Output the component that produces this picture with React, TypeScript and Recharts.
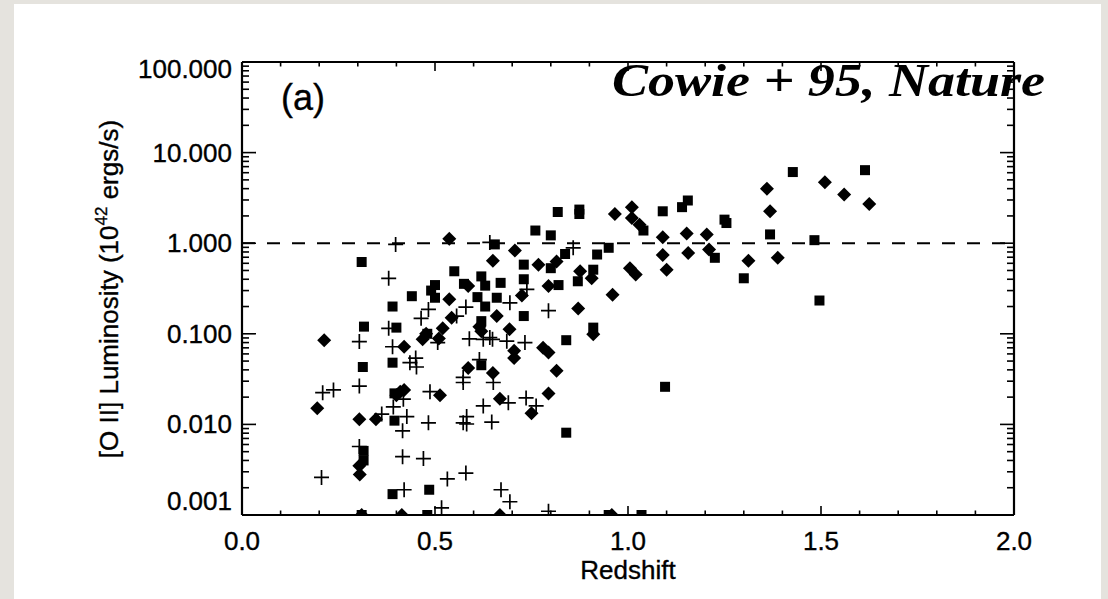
import React from 'react';
import { ScatterChart, Scatter, XAxis, YAxis, ReferenceLine } from 'recharts';

// [redshift, [O II] luminosity in 1e42 ergs/s]
const squarePoints: number[][] = [
  [0.31, 0.62], [0.316, 0.12], [0.313, 0.043], [0.39, 0.2], [0.4, 0.117], [0.39, 0.048],
  [0.44, 0.26], [0.49, 0.3], [0.5, 0.345], [0.5, 0.25], [0.55, 0.49], [0.575, 0.356],
  [0.62, 0.43], [0.63, 0.34], [0.61, 0.254], [0.63, 0.2], [0.66, 0.25], [0.62, 0.138],
  [0.62, 0.045], [0.655, 0.97], [0.395, 0.022], [0.395, 0.011], [0.315, 0.0051], [0.315, 0.004],
  [0.39, 0.0017], [0.485, 0.0019], [0.31, 0.001], [0.48, 0.001], [0.818, 2.21], [0.874, 2.35],
  [0.874, 2.1], [1.09, 2.25], [1.14, 2.5], [1.155, 2.96], [1.25, 1.82], [1.255, 1.67],
  [1.368, 1.25], [0.76, 1.38], [0.8, 1.22], [0.95, 0.89], [0.92, 0.75], [0.837, 0.76],
  [0.73, 0.58], [0.8, 0.53], [0.82, 0.345], [0.87, 0.38], [0.91, 0.51], [0.67, 0.365],
  [0.73, 0.4], [0.73, 0.157], [0.84, 0.085], [0.91, 0.117], [1.225, 0.69], [1.3, 0.41],
  [1.096, 0.026], [1.04, 1.38], [0.84, 0.0081], [0.95, 0.001], [1.035, 0.001], [1.427, 6.1],
  [1.614, 6.4], [1.483, 1.08], [1.496, 0.233], [0.48, 0.1],
];

const diamondPoints: number[][] = [
  [0.213, 0.085], [0.537, 1.12], [0.65, 0.64], [0.537, 0.24], [0.543, 0.15], [0.52, 0.115],
  [0.477, 0.1], [0.468, 0.087], [0.51, 0.089], [0.42, 0.072], [0.586, 0.336], [0.615, 0.12],
  [0.62, 0.107], [0.66, 0.157], [0.586, 0.042], [0.65, 0.037], [0.41, 0.023], [0.4, 0.021],
  [0.42, 0.024], [0.513, 0.021], [0.195, 0.0151], [0.304, 0.0114], [0.347, 0.0114], [0.304, 0.0035],
  [0.305, 0.0028], [0.668, 0.0192], [0.31, 0.001], [0.414, 0.001], [0.966, 2.1], [1.01, 2.5],
  [1.01, 1.9], [1.03, 1.6], [1.368, 2.25], [0.707, 0.83], [1.09, 1.16], [1.09, 0.74],
  [1.1, 0.51], [1.152, 1.28], [1.156, 0.78], [1.204, 1.25], [1.21, 0.85], [1.312, 0.64],
  [1.388, 0.69], [0.768, 0.58], [0.815, 0.63], [0.876, 0.49], [0.906, 0.41], [0.794, 0.336],
  [0.96, 0.27], [0.871, 0.19], [0.725, 0.265], [0.693, 0.112], [0.78, 0.07], [0.794, 0.062],
  [0.705, 0.065], [0.705, 0.054], [0.815, 0.039], [0.91, 0.099], [0.794, 0.022], [0.75, 0.0133],
  [0.668, 0.001], [0.958, 0.001], [1.36, 4.0], [1.51, 4.7], [1.56, 3.45], [1.625, 2.7],
  [1.005, 0.53], [1.02, 0.45],
];

const crossPoints: number[][] = [
  [0.398, 0.97], [0.642, 1.02], [0.38, 0.41], [0.483, 0.186], [0.464, 0.148], [0.58, 0.197],
  [0.556, 0.157], [0.304, 0.082], [0.38, 0.115], [0.39, 0.072], [0.435, 0.048], [0.45, 0.054],
  [0.452, 0.043], [0.507, 0.08], [0.589, 0.088], [0.625, 0.087], [0.649, 0.087], [0.615, 0.052],
  [0.573, 0.033], [0.573, 0.029], [0.651, 0.029], [0.209, 0.0224], [0.237, 0.024], [0.304, 0.0265],
  [0.487, 0.023], [0.392, 0.0156], [0.418, 0.019], [0.427, 0.0122], [0.416, 0.0085], [0.483, 0.0104],
  [0.362, 0.013], [0.304, 0.0057], [0.416, 0.0044], [0.47, 0.0042], [0.206, 0.0026], [0.42, 0.0019],
  [0.532, 0.0025], [0.58, 0.0029], [0.517, 0.0012], [0.573, 0.0104], [0.582, 0.0101], [0.625, 0.016],
  [0.647, 0.0106], [0.69, 0.0173], [0.736, 0.0196], [0.762, 0.016], [0.671, 0.0019], [0.694, 0.0014],
  [0.794, 0.0011], [0.858, 0.89], [0.738, 0.31], [0.694, 0.22], [0.794, 0.18], [0.642, 0.091],
  [0.686, 0.083], [0.733, 0.08], [0.582, 0.0122],
];

const redshiftTicks = [0, 0.1, 0.2, 0.3, 0.4, 0.5, 0.6, 0.7, 0.8, 0.9, 1.0, 1.1, 1.2, 1.3, 1.4, 1.5, 1.6, 1.7, 1.8, 1.9, 2.0];
const redshiftMajor = [0, 0.5, 1.0, 1.5, 2.0];
const lumDecades = [0.001, 0.01, 0.1, 1, 10, 100];
const lumTicks: number[] = [];
lumDecades.forEach((d, i) => {
  lumTicks.push(d);
  if (i < lumDecades.length - 1) for (let m = 2; m <= 9; m++) lumTicks.push(+(d * m).toPrecision(3));
});
const thresholdLum = 1;

const squares = squarePoints.map(([z, L]) => ({ z, L }));
const diamonds = diamondPoints.map(([z, L]) => ({ z, L }));
const crosses = crossPoints.map(([z, L]) => ({ z, L }));

const FONT = '"Liberation Sans", Arial, Helvetica, sans-serif';
const TXT = { fontFamily: FONT, fill: '#000', stroke: '#000', strokeWidth: 0.35 };

const isMajorZ = (v: number) => redshiftMajor.some((m) => Math.abs(m - v) < 1e-6);
const isDecade = (v: number) => Math.abs(Math.log10(v) - Math.round(Math.log10(v))) < 1e-6;

const BottomTick = (p: any) => {
  const v = p.payload.value;
  const major = isMajorZ(v);
  return (
    <g>
      <line x1={p.x} x2={p.x} y1={p.y} y2={p.y - (major ? 9 : 4.5)} stroke="#000" strokeWidth={1.6} />
      {major && (
        <text x={p.x} y={p.y + 35} textAnchor="middle" fontSize={26} {...TXT}>
          {v.toFixed(1)}
        </text>
      )}
    </g>
  );
};

const TopTick = (p: any) => {
  const v = p.payload.value;
  const major = isMajorZ(v);
  return <line x1={p.x} x2={p.x} y1={p.y} y2={p.y + (major ? 9 : 4.5)} stroke="#000" strokeWidth={1.6} />;
};

const LeftTick = (p: any) => {
  const v = p.payload.value;
  const major = isDecade(v);
  let dy = 9;
  if (major && Math.abs(v - 100) < 1e-6) dy = 16;
  if (major && Math.abs(v - 0.001) < 1e-9) dy = -5;
  return (
    <g>
      <line x1={p.x} x2={p.x + (major ? 14 : 7)} y1={p.y} y2={p.y} stroke="#000" strokeWidth={1.6} />
      {major && (
        <text x={p.x - 10} y={p.y + dy} textAnchor="end" fontSize={26} {...TXT}>
          {v.toFixed(3)}
        </text>
      )}
    </g>
  );
};

const RightTick = (p: any) => {
  const v = p.payload.value;
  const major = isDecade(v);
  return <line x1={p.x} x2={p.x - (major ? 14 : 7)} y1={p.y} y2={p.y} stroke="#000" strokeWidth={1.6} />;
};

const Square = (p: any) =>
  p.cx == null ? null : <rect x={p.cx - 5} y={p.cy - 5} width={10} height={10} fill="#000" />;
const Diamond = (p: any) =>
  p.cx == null ? null : (
    <polygon
      points={`${p.cx},${p.cy - 7} ${p.cx + 7},${p.cy} ${p.cx},${p.cy + 7} ${p.cx - 7},${p.cy}`}
      fill="#000"
    />
  );
const Cross = (p: any) =>
  p.cx == null ? null : (
    <path
      d={`M${p.cx - 7.5},${p.cy}H${p.cx + 7.5}M${p.cx},${p.cy - 7.5}V${p.cy + 7.5}`}
      stroke="#000"
      strokeWidth={1.7}
      fill="none"
    />
  );

export default function App() {
  return (
    <div style={{ position: 'absolute', left: 0, top: 0, width: 1108, height: 599, background: '#e5e3de', overflow: 'hidden' }}>
      <div style={{ position: 'absolute', left: 14, top: 4, width: 1087, height: 600, background: '#fff' }} />
      <div style={{ position: 'absolute', left: 0, top: 0 }}>
        <ScatterChart width={1108} height={599} margin={{ top: 52, right: 84, bottom: 54, left: 142 }}>
          <XAxis
            xAxisId="b"
            dataKey="z"
            type="number"
            domain={[0, 2]}
            ticks={redshiftTicks}
            interval={0}
            allowDataOverflow
            orientation="bottom"
            height={30}
            tickSize={0}
            tickMargin={0}
            tickLine={false}
            axisLine={{ stroke: '#000', strokeWidth: 2.2 }}
            tick={<BottomTick />}
          />
          <XAxis
            xAxisId="t"
            dataKey="z"
            type="number"
            domain={[0, 2]}
            ticks={redshiftTicks}
            interval={0}
            allowDataOverflow
            orientation="top"
            height={10}
            tickSize={0}
            tickMargin={0}
            tickLine={false}
            axisLine={{ stroke: '#000', strokeWidth: 2.2 }}
            tick={<TopTick />}
          />
          <YAxis
            yAxisId="l"
            dataKey="L"
            type="number"
            scale="log"
            domain={[0.001, 100]}
            ticks={lumTicks}
            interval={0}
            allowDataOverflow
            orientation="left"
            width={100}
            tickSize={0}
            tickMargin={0}
            tickLine={false}
            axisLine={{ stroke: '#000', strokeWidth: 2.2 }}
            tick={<LeftTick />}
          />
          <YAxis
            yAxisId="r"
            dataKey="L"
            type="number"
            scale="log"
            domain={[0.001, 100]}
            ticks={lumTicks}
            interval={0}
            allowDataOverflow
            orientation="right"
            width={10}
            tickSize={0}
            tickMargin={0}
            tickLine={false}
            axisLine={{ stroke: '#000', strokeWidth: 2.2 }}
            tick={<RightTick />}
          />
          <ReferenceLine
            xAxisId="b"
            yAxisId="l"
            y={thresholdLum}
            stroke="#000"
            strokeWidth={2}
            strokeDasharray="13 12"
          />
          <Scatter xAxisId="b" yAxisId="l" data={squares} shape={<Square />} isAnimationActive={false} />
          <Scatter xAxisId="b" yAxisId="l" data={diamonds} shape={<Diamond />} isAnimationActive={false} />
          <Scatter xAxisId="b" yAxisId="l" data={crosses} shape={<Cross />} isAnimationActive={false} />
        </ScatterChart>
      </div>
      <svg width={1108} height={599} style={{ position: 'absolute', left: 0, top: 0, pointerEvents: 'none' }}>
        <text x={281} y={110} fontSize={36} {...TXT}>(a)</text>
        <text
          x={612}
          y={96}
          fontFamily='"Liberation Serif", "Times New Roman", serif'
          fontStyle="italic"
          fontWeight="bold"
          fontSize={46}
          textLength={433}
          lengthAdjust="spacingAndGlyphs"
          fill="#000"
        >
          Cowie + 95, Nature
        </text>
        <text x={628} y={579} textAnchor="middle" fontSize={26} {...TXT}>Redshift</text>
        <text
          x={118}
          y={289}
          textAnchor="middle"
          transform="rotate(-90 118 289)"
          fontSize={26}
          {...TXT}
        >
          [O II] Luminosity (10<tspan dy={-11} fontSize={17}>42</tspan><tspan dy={11}> ergs/s)</tspan>
        </text>
      </svg>
    </div>
  );
}
